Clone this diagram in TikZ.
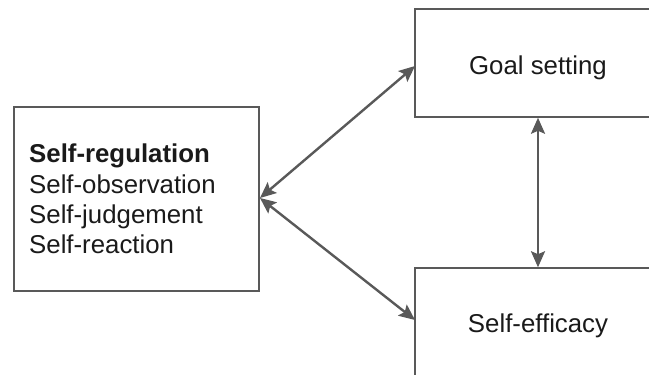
\documentclass[tikz,border=0pt]{standalone}
\usepackage{fontspec}
\setmainfont{Liberation Sans}
\usetikzlibrary{arrows.meta}
\definecolor{edgegray}{HTML}{595959}
\definecolor{inkblack}{HTML}{1A1A1A}
\tikzset{
  panel/.style={draw=edgegray, line width=1.5bp, fill=white, inner sep=0pt},
  tip/.tip={Stealth[length=16bp,width=14bp,inset=3bp]},
  link/.style={draw=edgegray, line width=2.4bp, tip-tip},
  label/.style={text=inkblack, inner sep=0pt, font=\fontsize{25.8bp}{30bp}\selectfont}
}
\begin{document}
\begin{tikzpicture}[x=1bp,y=-1bp]
  \useasboundingbox (0,0) rectangle (649,374);
  \clip (0,0) rectangle (649,374);
  % boxes
  \node[panel, minimum width=245bp, minimum height=184bp] (reg) at (136.5,199) {};
  \node[panel, minimum width=246bp, minimum height=108bp] (goal) at (538,63) {};
  \node[panel, minimum width=246bp, minimum height=108bp] (eff) at (538,322) {};
  % list inside the left box, one line per node
  \node[label, anchor=base west, font=\fontsize{25.8bp}{30bp}\selectfont\bfseries] (l1) at (29,162.5) {Self-regulation};
  \node[label, anchor=base west] (l2) at (29,193) {Self-observation};
  \node[label, anchor=base west] (l3) at (29,223) {Self-judgement};
  \node[label, anchor=base west] (l4) at (29,253) {Self-reaction};
  % titles of the right boxes
  \node[label, anchor=base] (goaltext) at (538,74) {Goal setting};
  \node[label, anchor=base] (efftext) at (538,332) {Self-efficacy};
  % connectors
  \coordinate (regport) at (260,198);
  \coordinate (goalport) at (415,66);
  \coordinate (effport) at (415,320);
  \draw[link] (regport) -- (goalport);
  \draw[link] (regport) -- (effport);
  \draw[link] (goal.south) -- (eff.north);
\end{tikzpicture}
\end{document}
